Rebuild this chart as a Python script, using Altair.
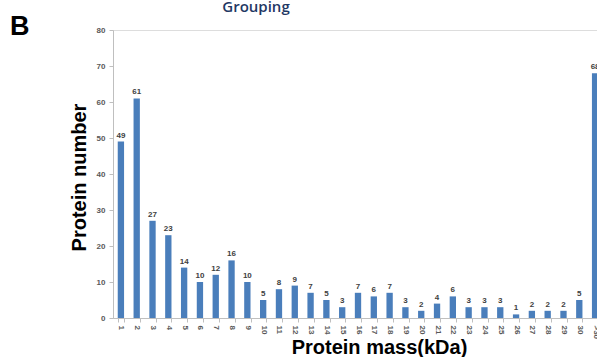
import altair as alt
import pandas as pd

categories = [str(i) for i in range(1, 31)] + [">30"]
counts = [49, 61, 27, 23, 14, 10, 12, 16, 10, 5, 8, 9, 7, 5, 3, 7, 6, 7, 3, 2,
          4, 6, 3, 3, 3, 1, 2, 2, 2, 5, 68]

df = pd.DataFrame({"mass": categories, "n": counts})

x = alt.X("mass:N", sort=categories,
          scale=alt.Scale(range=[0, 490], paddingInner=0.6, paddingOuter=0.3),
          axis=alt.Axis(title="Protein mass(kDa)", labelAngle=90, labelFontSize=8,
                        labelFont="Liberation Sans", labelFontWeight="bold",
                        labelColor="#595959", labelPadding=3, labelOverlap=False,
                        domainColor="#BFBFBF", tickColor="#BFBFBF", tickBand="extent",
                        tickSize=4, titleFont="Liberation Sans", titleFontSize=20,
                        titleFontWeight="bold", titleColor="#000000",
                        titleX=266, titleY=35, titleBaseline="alphabetic",
                        titleAnchor="middle"))
y = alt.Y("n:Q", scale=alt.Scale(domain=[0, 80]),
          axis=alt.Axis(title="Protein number", values=list(range(0, 81, 10)),
                        grid=False, labelFontSize=8, labelFont="Liberation Sans",
                        labelFontWeight="bold", labelColor="#595959", labelPadding=4,
                        labelOverlap=False,
                        domainColor="#BFBFBF", tickColor="#BFBFBF", tickSize=4,
                        titleFont="Liberation Sans", titleFontSize=20,
                        titleFontWeight="bold", titleColor="#000000",
                        titleX=-28, titleY=147, titleBaseline="alphabetic",
                        titleAnchor="middle"))

base = alt.Chart(df).encode(x=x, y=y)
bars = base.mark_bar(color="#4A7EBB")
labels = base.mark_text(dy=-6, fontSize=8, font="Liberation Sans",
                        fontWeight="bold", color="#404040").encode(text="n:Q")

b_text = alt.Chart(pd.DataFrame({"t": ["B"]})).mark_text(
    fontSize=27, font="Liberation Sans", fontWeight="bold", color="#000000",
    align="left", baseline="alphabetic").encode(
    x=alt.value(-103), y=alt.value(5), text="t:N")
g_text = alt.Chart(pd.DataFrame({"t": ["Grouping"]})).mark_text(
    fontSize=15, font="Open Sans", fontWeight=600, color="#1F3864",
    align="center", baseline="alphabetic").encode(
    x=alt.value(143), y=alt.value(-18), text="t:N")

chart = alt.layer(bars, labels, b_text, g_text).properties(
    width=484, height=288,
    padding={"left": 113, "top": 30, "right": 0, "bottom": 39},
    autosize=alt.AutoSizeParams(type="none"),
).configure_view(stroke=None).configure(background="white")

chart.save("out.html", embed_options={"renderer": "svg", "actions": False})
